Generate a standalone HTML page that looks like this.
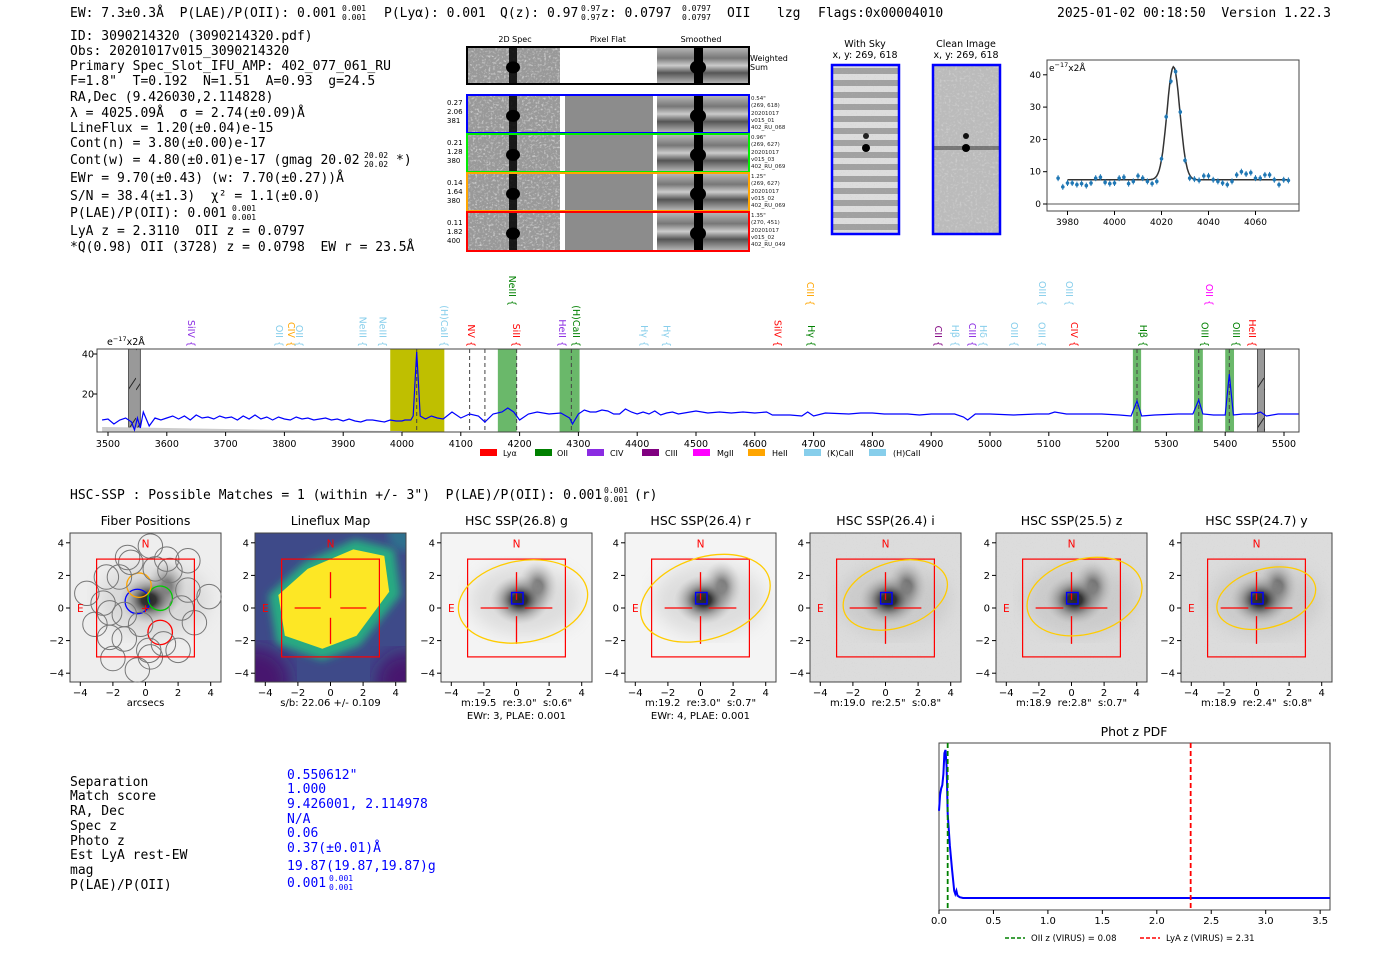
<!DOCTYPE html>
<html><head><meta charset="utf-8">
<style>
html,body{margin:0;padding:0;background:#fff;}
svg{display:block;}
.mono{font-family:"DejaVu Sans Mono","Liberation Mono",monospace;font-size:13px;fill:#000;}
.sans{font-family:"DejaVu Sans","Liberation Sans",sans-serif;}
.tick{font-family:"DejaVu Sans","Liberation Sans",sans-serif;fill:#000;white-space:pre;}
</style></head>
<body>
<svg id="root" width="1400" height="953" viewBox="0 0 1400 953" font-size="10" xmlns="http://www.w3.org/2000/svg">
<defs>
<filter id="noise" x="0" y="0" width="100%" height="100%"><feTurbulence type="fractalNoise" baseFrequency="0.45" numOctaves="2" seed="3"/><feColorMatrix type="matrix" values="0 0 0 0 0.6  0 0 0 0 0.6  0 0 0 0 0.6  -2.2 -2.2 0 0 2.2"/></filter>
<filter id="fine" x="0" y="0" width="100%" height="100%"><feTurbulence type="fractalNoise" baseFrequency="0.9" numOctaves="1" seed="7"/><feColorMatrix type="matrix" values="0 0 0 0 0.5  0 0 0 0 0.5  0 0 0 0 0.5  -1.2 -1.2 0 0 1.1"/></filter>
<filter id="blur4"><feGaussianBlur stdDeviation="4"/></filter>
<filter id="blur8"><feGaussianBlur stdDeviation="9"/></filter>
<radialGradient id="blob"><stop offset="0" stop-color="#000"/><stop offset="0.25" stop-color="#111"/><stop offset="0.6" stop-color="#777" stop-opacity="0.6"/><stop offset="1" stop-color="#bbb" stop-opacity="0"/></radialGradient>
<pattern id="hatch" width="8" height="40" patternUnits="userSpaceOnUse"><rect width="8" height="40" fill="#999"/><line x1="0" y1="30" x2="8" y2="18" stroke="#222" stroke-width="1"/></pattern>
<linearGradient id="smooth" x1="0" y1="0" x2="0" y2="1"><stop offset="0" stop-color="#bbb"/><stop offset="0.3" stop-color="#777"/><stop offset="0.5" stop-color="#ccc"/><stop offset="0.7" stop-color="#555"/><stop offset="1" stop-color="#bbb"/></linearGradient>
</defs>

<g>
<text class="mono" x="70" y="17" xml:space="preserve">EW: 7.3±0.3Å  P(LAE)/P(OII): 0.001</text>
<text class="mono" x="342" y="11" style="font-size:8px">0.001</text><text class="mono" x="342" y="20" style="font-size:8px">0.001</text>
<text class="mono" x="384" y="17">P(Lyα): 0.001</text>
<text class="mono" x="500" y="17">Q(z): 0.97</text>
<text class="mono" x="581" y="11" style="font-size:8px">0.97</text><text class="mono" x="581" y="20" style="font-size:8px">0.97</text>
<text class="mono" x="601" y="17">z: 0.0797</text>
<text class="mono" x="682" y="11" style="font-size:8px">0.0797</text><text class="mono" x="682" y="20" style="font-size:8px">0.0797</text>
<text class="mono" x="727" y="17">OII</text>
<text class="mono" x="777" y="17">lzg</text>
<text class="mono" x="818" y="17">Flags:0x00004010</text>
<text class="mono" x="1057" y="17" xml:space="preserve">2025-01-02 00:18:50  Version 1.22.3</text>
</g>

<g>
<text class="mono" x="70" y="40">ID: 3090214320 (3090214320.pdf)</text>
<text class="mono" x="70" y="55">Obs: 20201017v015_3090214320</text>
<text class="mono" x="70" y="70">Primary Spec_Slot_IFU_AMP: 402_077_061_RU</text>
<text class="mono" x="70" y="85" xml:space="preserve">F=1.8"  T=0.192  N=1.51  A=0.93  g=24.5</text>
<text class="mono" x="70" y="101">RA,Dec (9.426030,2.114828)</text>
<text class="mono" x="70" y="117" xml:space="preserve">λ = 4025.09Å  σ = 2.74(±0.09)Å</text>
<text class="mono" x="70" y="132">LineFlux = 1.20(±0.04)e-15</text>
<text class="mono" x="70" y="147">Cont(n) = 3.80(±0.00)e-17</text>
<text class="mono" x="70" y="164">Cont(w) = 4.80(±0.01)e-17 (gmag 20.02</text>
<text class="mono" x="364" y="158" style="font-size:8px">20.02</text><text class="mono" x="364" y="167" style="font-size:8px">20.02</text>
<text class="mono" x="396" y="164">*)</text>
<text class="mono" x="70" y="182" xml:space="preserve">EWr = 9.70(±0.43) (w: 7.70(±0.27))Å</text>
<text class="mono" x="70" y="200" xml:space="preserve">S/N = 38.4(±1.3)  χ² = 1.1(±0.0)</text>
<text class="mono" x="70" y="217">P(LAE)/P(OII): 0.001</text>
<text class="mono" x="232" y="211" style="font-size:8px">0.001</text><text class="mono" x="232" y="220" style="font-size:8px">0.001</text>
<text class="mono" x="70" y="235" xml:space="preserve">LyA z = 2.3110  OII z = 0.0797</text>
<text class="mono" x="70" y="251" xml:space="preserve">*Q(0.98) OII (3728) z = 0.0798  EW r = 23.5Å</text>
</g>

<g class="sans">
<text x="515" y="42" font-size="8" text-anchor="middle">2D Spec</text>
<text x="608" y="42" font-size="8" text-anchor="middle">Pixel Flat</text>
<text x="701" y="42" font-size="8" text-anchor="middle">Smoothed</text>
<g id="cut2d"></g>
<text x="750" y="61" font-size="8">Weighted</text><text x="750" y="70" font-size="8">Sum</text>
<g font-size="7" fill="#000">
<text x="447" y="105">0.27</text><text x="447" y="114">2.06</text><text x="447" y="123">381</text>
<text x="447" y="145">0.21</text><text x="447" y="154">1.28</text><text x="447" y="163">380</text>
<text x="447" y="185">0.14</text><text x="447" y="194">1.64</text><text x="447" y="203">380</text>
<text x="447" y="225">0.11</text><text x="447" y="234">1.82</text><text x="447" y="243">400</text>
</g>
<g font-size="5.5" fill="#222">
<text x="751" y="100">0.54"</text><text x="751" y="107">(269, 618)</text><text x="751" y="115">20201017</text><text x="751" y="122">v015_01</text><text x="751" y="129">402_RU_068</text>
<text x="751" y="139">0.96"</text><text x="751" y="146">(269, 627)</text><text x="751" y="154">20201017</text><text x="751" y="161">v015_03</text><text x="751" y="168">402_RU_069</text>
<text x="751" y="178">1.25"</text><text x="751" y="185">(269, 627)</text><text x="751" y="193">20201017</text><text x="751" y="200">v015_02</text><text x="751" y="207">402_RU_069</text>
<text x="751" y="217">1.35"</text><text x="751" y="224">(270, 451)</text><text x="751" y="232">20201017</text><text x="751" y="239">v015_02</text><text x="751" y="246">402_RU_049</text>
</g>
</g>

<g class="sans">
<text x="865" y="47" font-size="9.5" text-anchor="middle">With Sky</text>
<text x="865" y="58" font-size="9.5" text-anchor="middle">x, y: 269, 618</text>
<text x="966" y="47" font-size="9.5" text-anchor="middle">Clean Image</text>
<text x="966" y="58" font-size="9.5" text-anchor="middle">x, y: 269, 618</text>
<g>
<rect x="832" y="65" width="67" height="169" fill="#ddd"/>
<g id="skybands"></g>
<rect x="832" y="65" width="67" height="169" filter="url(#fine)" opacity="0.5"/>
<circle cx="866" cy="148" r="4" fill="#000"/><circle cx="866" cy="136" r="3" fill="#222"/>
<rect x="832" y="65" width="67" height="169" fill="none" stroke="#0000ff" stroke-width="2.5"/>
</g>
<g>
<rect x="933" y="65" width="67" height="169" fill="#bbb"/>
<rect x="933" y="65" width="67" height="169" filter="url(#noise)"/>
<rect x="933" y="146" width="67" height="4" fill="#333" opacity="0.5"/>
<circle cx="966" cy="148" r="4" fill="#000"/><circle cx="966" cy="136" r="3" fill="#111"/>
<rect x="933" y="65" width="67" height="169" fill="none" stroke="#0000ff" stroke-width="2.5"/>
</g>
</g>

<g id="fitplot">
<rect x="1047" y="60" width="252" height="151" fill="none" stroke="#444" stroke-width="1"/>
<text class="tick" x="1049" y="71" font-size="9">e<tspan font-size="6.5" dy="-4">−17</tspan><tspan dy="4">x2Å</tspan></text>
</g>

<g id="spec">
<text class="tick" x="107" y="345" font-size="9.5">e<tspan font-size="6.5" dy="-4">−17</tspan><tspan dy="4">x2Å</tspan></text>
</g>

<g class="tick" font-size="8">
<rect x="480" y="449" width="17" height="7" fill="#ff0000"/><text x="503" y="456">Lyα</text>
<rect x="535" y="449" width="17" height="7" fill="#008000"/><text x="557" y="456">OII</text>
<rect x="587" y="449" width="17" height="7" fill="#8a2be2"/><text x="610" y="456">CIV</text>
<rect x="642" y="449" width="17" height="7" fill="#800080"/><text x="665" y="456">CIII</text>
<rect x="693" y="449" width="17" height="7" fill="#ff00ff"/><text x="717" y="456">MgII</text>
<rect x="748" y="449" width="17" height="7" fill="#ffa500"/><text x="772" y="456">HeII</text>
<rect x="804" y="449" width="17" height="7" fill="#87ceeb"/><text x="827" y="456">(K)CaII</text>
<rect x="869" y="449" width="17" height="7" fill="#87ceeb"/><text x="893" y="456">(H)CaII</text>
</g>

<g>
<text class="mono" x="70" y="499" xml:space="preserve">HSC-SSP : Possible Matches = 1 (within +/- 3")  P(LAE)/P(OII): 0.001</text>
<text class="mono" x="604" y="493" style="font-size:8px">0.001</text><text class="mono" x="604" y="502" style="font-size:8px">0.001</text>
<text class="mono" x="634" y="499">(r)</text>
</g>

<g id="cutouts"></g>

<g>
<g class="mono">
<text x="70" y="786">Separation</text><text x="70" y="800">Match score</text><text x="70" y="815">RA, Dec</text><text x="70" y="830">Spec z</text>
<text x="70" y="845">Photo z</text><text x="70" y="859">Est LyA rest-EW</text><text x="70" y="874">mag</text><text x="70" y="889">P(LAE)/P(OII)</text>
</g>
<g class="mono">
<text class="mono" x="287" y="779" style="fill:#0000ff">0.550612"</text><text class="mono" x="287" y="793" style="fill:#0000ff">1.000</text><text class="mono" x="287" y="808" style="fill:#0000ff">9.426001, 2.114978</text>
<text class="mono" x="287" y="823" style="fill:#0000ff">N/A</text><text class="mono" x="287" y="837" style="fill:#0000ff">0.06</text><text class="mono" x="287" y="852" style="fill:#0000ff">0.37(±0.01)Å</text>
<text class="mono" x="287" y="870" style="fill:#0000ff">19.87(19.87,19.87)g</text><text class="mono" x="287" y="887" style="fill:#0000ff">0.001</text>
<text class="mono" x="329" y="881" style="font-size:8px;fill:#0000ff">0.001</text><text class="mono" x="329" y="890" style="font-size:8px;fill:#0000ff">0.001</text>
</g>
</g>

<g id="pdf">
<text class="sans" x="1134" y="736" font-size="12.5" text-anchor="middle">Phot z PDF</text>
<rect x="939" y="743" width="391" height="167" fill="none" stroke="#444"/>
<line x1="1005" y1="938" x2="1025" y2="938" stroke="#008000" stroke-width="1.5" stroke-dasharray="4,2"/>
<text class="tick" x="1031" y="941" font-size="8.5">OII z (VIRUS) = 0.08</text>
<line x1="1140" y1="938" x2="1160" y2="938" stroke="#ff0000" stroke-width="1.5" stroke-dasharray="4,2"/>
<text class="tick" x="1166" y="941" font-size="8.5">LyA z (VIRUS) = 2.31</text>
</g>
</svg>

<script>
// ---------- DATA ----------
const fitWave = [3976,3978,3980,3982,3984,3986,3988,3990,3992,3994,3996,3998,4000,4002,4004,4006,4008,4010,4012,4014,4016,4018,4020,4022,4024,4026,4028,4030,4032,4034,4036,4038,4040,4042,4044,4046,4048,4050,4052,4054,4056,4058,4060,4062,4064,4066,4068,4070,4072,4074];
const fitFlux = [8,5.3,6.5,6.5,6,6.3,5.7,6.5,8,8.3,6.7,6.3,6.5,8,8.3,6.3,7,8.7,8,7,6.3,7,14,27,38,41,28.5,13.5,8,7.7,7.3,8.7,8.7,7.5,7,6.5,6,7,9,10,9.3,9.7,8,8,9,9,7.5,6,7.5,7.3];
const fitModel = {center:4025.09, sigma:2.74, amp:35, cont:7.5, wmin:3980, wmax:4074};
const fitXTicks = [3980,4000,4020,4040,4060];
const fitYTicks = [0,10,20,30,40];

const specWave = [3490,3500,3510,3520,3530,3540,3545,3550,3555,3560,3570,3580,3590,3600,3610,3620,3630,3640,3650,3660,3670,3680,3690,3700,3710,3720,3730,3740,3750,3760,3770,3780,3790,3800,3810,3820,3830,3840,3850,3860,3870,3880,3890,3900,3910,3920,3930,3940,3950,3960,3970,3980,3990,4000,4005,4015,4019,4022,4025,4028,4031,4040,4050,4060,4070,4085,4100,4115,4130,4141,4155,4170,4180,4190,4200,4215,4230,4250,4270,4285,4290,4300,4310,4320,4330,4340,4350,4360,4370,4380,4390,4400,4410,4420,4430,4440,4450,4460,4470,4480,4490,4500,4520,4540,4560,4580,4600,4620,4630,4660,4680,4690,4700,4720,4760,4780,4800,4820,4860,4880,4900,4940,4955,4962,4975,5000,5040,5080,5100,5110,5130,5160,5190,5220,5240,5250,5258,5280,5320,5345,5355,5362,5380,5400,5407,5414,5430,5450,5460,5470,5490,5510,5525];
const specFlux = [7,7.5,5,7,8,6,2,8,3,11,4,8,7,8,9,7.5,9,7,9.5,8,8.5,7.5,9,8,8.5,7,9,7.5,9.5,7.5,8.5,7,8.5,7.5,7,8.5,7.5,8,7,7.5,8,7,7.5,6.5,7.5,6.5,6,7,7,6.5,6,7,6.5,6.5,7,7,9,25,41,25,9,7.5,9,8,7.5,11,8,10,9,6,10,11,13,11,7,10,11,10,10.5,8,5,10,12,11,11,12,11.5,10,10,12.5,11,10,11,10,11.5,9.5,10.5,11,10,10.5,11,11.5,10.5,11,10.5,11,10.5,11,9.5,9.5,9,11,9,10.5,10,10.5,10.5,10,10,9.5,10,10,8.5,7,10,10,9.5,10,10,11,10,10,10,9.5,9,16.5,9,9.5,10,10,17,10,9.5,9.5,30,9.5,10,10,11,9,10,10,10];
const specXTicks = [3500,3600,3700,3800,3900,4000,4100,4200,4300,4400,4500,4600,4700,4800,4900,5000,5100,5200,5300,5400,5500];
const specYTicks = [20,40];
const bandStart = [3980,4163,4268,5243,5347,5400];
const bandEnd   = [4072,4195,4302,5257,5362,5415];
const bandColor = ['#bfbf00','#6ab86a','#6ab86a','#6ab86a','#6ab86a','#6ab86a'];
const maskStart = [3535,5455];
const maskEnd = [3555,5467];
const dashWaves = [4025,4115,4141,4195,4288,5250,5355,5407];
const lineWaves = [3631,3781,3801,3815,3923,3957,4061,4107,4177,4184,4262,4286,4401,4440,4628,4684,4685,4901,4930,4959,4978,5031,5078,5077,5124,5133,5250,5362,5355,5408,5435];
const lineNames = ['SiIV','OII','CIV','OII','NeIII','NeIII','(H)CaII','NV','NeIII','SiII','HeII','(H)CaII','Hγ','Hγ','SiIV','CIII','Hγ','CII','Hβ','CIII','Hδ','OIII','OIII','OIII','OIII','CIV','Hβ','OII','OIII','OIII','HeII'];
const lineColors = ['#8a2be2','#87ceeb','#ffa500','#87ceeb','#87ceeb','#87ceeb','#87ceeb','#ff0000','#008000','#ff0000','#8a2be2','#008000','#87ceeb','#87ceeb','#ff0000','#ffa500','#008000','#800080','#87ceeb','#8a2be2','#87ceeb','#87ceeb','#87ceeb','#87ceeb','#87ceeb','#ff0000','#008000','#ff00ff','#008000','#008000','#ff0000'];
const lineRow = [0,0,0,0,0,0,0,0,1,0,0,0,0,0,0,1,0,0,0,0,0,0,1,0,1,0,0,1,0,0,0];

const pdfZ = [0,0.01,0.02,0.03,0.04,0.05,0.06,0.07,0.08,0.09,0.1,0.12,0.14,0.15,0.16,0.17,0.19,0.22,1.0,2.0,3.0,3.6];
const pdfV = [0.62,0.72,0.76,0.78,0.85,0.98,1.0,0.9,0.6,0.5,0.4,0.25,0.12,0.1,0.12,0.09,0.08,0.075,0.075,0.075,0.075,0.075];
const pdfXTicks = ['0.0','0.5','1.0','1.5','2.0','2.5','3.0','3.5'];
const pdfMarkZ = [0.0797,2.311];
const pdfMarkColor = ['#008000','#ff0000'];

const cutTitles = ['Fiber Positions','Lineflux Map','HSC SSP(26.8) g','HSC SSP(26.4) r','HSC SSP(26.4) i','HSC SSP(25.5) z','HSC SSP(24.7) y'];
const cutLine1 = ['arcsecs','s/b: 22.06 +/- 0.109','m:19.5  re:3.0"  s:0.6"','m:19.2  re:3.0"  s:0.7"','m:19.0  re:2.5"  s:0.8"','m:18.9  re:2.8"  s:0.7"','m:18.9  re:2.4"  s:0.8"'];
const cutLine2 = ['','','EWr: 3, PLAE: 0.001','EWr: 4, PLAE: 0.001','','',''];
const ellRx = [0,0,4.0,4.1,3.3,3.6,3.1];
const ellRy = [0,0,2.5,2.5,2.0,2.3,1.8];
const ellAng = [0,0,-10,-18,-18,-15,-15];
const ellCx = [0,0,0.4,0.3,0.6,0.8,0.6];
const ellCy = [0,0,0.4,0.6,0.8,0.7,0.6];
const tickVals = [-4,-2,0,2,4];
const fiberX = [-0.5,0.9,0.9,-0.4, -2.2,-1.3,0.2,1.5,2.6,-2.6,-1.6,-3.1,-2.0,-1.1,0.3,2.0,3.0,-2.4,-1.3,0.3,1.3,2.6,3.9,-3.6,-2.2,-0.5,1.1,2.2,-0.9,0.6,-0.3];
const fiberY = [0.4,0.6,-1.5,1.4,-1.8,-0.4,-2.6,2.3,1.1,0.3,1.9,-1.0,-3.1,3.1,3.8,-2.6,-0.9,1.9,-1.9,-3.0,3.0,2.9,0.7,0.9,-0.3,-3.8,-2.2,0.0,2.8,2.4,-1.0];
const fiberColor = ['#0000ff','#00cc00','#ff0000','#ffa500'];

// ---------- helpers ----------
const NS='http://www.w3.org/2000/svg';
function el(tag, parent, attrs){const e=document.createElementNS(NS,tag);for(const k in attrs)e.setAttribute(k,attrs[k]);parent.appendChild(e);return e;}
function txt(parent,x,y,s,attrs){const t=el('text',parent,Object.assign({x:x,y:y,class:'tick'},attrs||{}));t.textContent=s;return t;}

(function(){
  const g=document.getElementById('cut2d');
  const rows=[[47,37,'#000'],[95,38,'#0000ff'],[134,38,'#00ee00'],[173,38,'#ffa500'],[212,39,'#ff0000']];
  rows.forEach((r,i)=>{
    const y=r[0],h=r[1];
    const a=el('rect',g,{x:468,y:y,width:92,height:h,fill:'#999'});
    
    
    el('rect',g,{x:468,y:y,width:92,height:h,filter:'url(#noise)'});
    el('rect',g,{x:509,y:y,width:8,height:h,fill:'#000',opacity:0.85});
    el('ellipse',g,{cx:513,cy:y+h*0.55,rx:7,ry:6,fill:'#000'});
    if(i>0){const p=el('rect',g,{x:565,y:y,width:88,height:h,fill:'#8c8c8c'});
      
      }
    const s=el('rect',g,{x:657,y:y,width:91,height:h,fill:'url(#smooth)'});
    
    
    el('rect',g,{x:694,y:y,width:9,height:h,fill:'#000'});
    el('ellipse',g,{cx:698,cy:y+h*0.55,rx:8,ry:7,fill:'#000'});
    const b=el('rect',g,{x:467,y:y,width:282,height:h,fill:'none',stroke:r[2],'stroke-width':2});
    
    
  });
  const sb=document.getElementById('skybands');
  for(let k=0;k<14;k++){const r=el('rect',sb,{x:832,y:68+k*12,width:67,height:6,fill:'#888',opacity:0.7});
    
    }
})();

(function(){
  const g=document.getElementById('fitplot');
  const tx=w=>1067.5+(w-3980)*2.35, ty=f=>204-f*3.23;
  el('line',g,{x1:1047,x2:1299,y1:ty(0),y2:ty(0),stroke:'#555','stroke-width':1});
  fitXTicks.forEach(v=>{el('line',g,{x1:tx(v),x2:tx(v),y1:211,y2:215,stroke:'#000'});
    const t=txt(g,tx(v),225,String(v),{'text-anchor':'middle','font-size':9});
    
    });
  fitYTicks.forEach(v=>{el('line',g,{x1:1043,x2:1047,y1:ty(v),y2:ty(v),stroke:'#000'});
    const t=txt(g,1041,ty(v)+3,String(v),{'text-anchor':'end','font-size':9});
    
    });
  let d='';
  for(let w=fitModel.wmin;w<=fitModel.wmax;w+=0.5){const f=fitModel.cont+fitModel.amp*Math.exp(-0.5*Math.pow((w-fitModel.center)/fitModel.sigma,2));d+=(d?'L':'M')+tx(w).toFixed(1)+','+ty(f).toFixed(1);}
  const m=el('path',g,{d:d,fill:'none',stroke:'#333','stroke-width':1.5});
  
  
  fitWave.forEach((w,i)=>{
    el('line',g,{x1:tx(w),x2:tx(w),y1:ty(fitFlux[i])-3,y2:ty(fitFlux[i])+3,stroke:'#1f77b4','stroke-width':1});
    const c=el('circle',g,{cx:tx(w),cy:ty(fitFlux[i]),r:1.8,fill:'#1f77b4'});
    
    
  });
})();

(function(){
  const g=document.getElementById('spec');
  const L=97,R=1299,T=349,B=432;
  const sx=w=>108+(w-3500)*0.588, sy=f=>Math.max(T,Math.min(B,434-2*f));
  bandStart.forEach((s,i)=>{const r=el('rect',g,{x:sx(s),y:T,width:sx(bandEnd[i])-sx(s),height:B-T,fill:bandColor[i]});
    
    });
  maskStart.forEach((s,i)=>{const r=el('rect',g,{x:sx(s),y:T,width:sx(maskEnd[i])-sx(s),height:B-T,fill:'url(#hatch)',stroke:'#333','stroke-width':0.8});
    
    });
  el('polygon',g,{points:`${sx(3490)},${B} ${sx(3490)},${B-5} ${sx(3600)},${B-4} ${sx(3800)},${B-2} ${sx(4000)},${B-1} ${sx(4000)},${B}`,fill:'#ccc'});
  dashWaves.forEach(w=>{const l=el('line',g,{x1:sx(w),x2:sx(w),y1:T,y2:B,stroke:'#444','stroke-width':1,'stroke-dasharray':'4,3'});
    
    });
  let d='';
  specWave.forEach((w,i)=>{d+=(i?'L':'M')+sx(w).toFixed(1)+','+sy(specFlux[i]).toFixed(1);});
  const p=el('path',g,{d:d,fill:'none',stroke:'#0000ff','stroke-width':1.2});
  
  
  el('rect',g,{x:L,y:T,width:R-L,height:B-T,fill:'none',stroke:'#444','stroke-width':1});
  specXTicks.forEach(v=>{el('line',g,{x1:sx(v),x2:sx(v),y1:B,y2:B+4,stroke:'#000'});
    const t=txt(g,sx(v),447,String(v),{'text-anchor':'middle','font-size':9.5});
    
    });
  specYTicks.forEach(v=>{el('line',g,{x1:L-4,x2:L,y1:sy(v),y2:sy(v),stroke:'#000'});
    const t=txt(g,94,sy(v)+3.5,String(v),{'text-anchor':'end','font-size':9.5});
    
    });
  lineWaves.forEach((w,i)=>{
    const yEnd=lineRow[i]?306:347;
    const t=el('text',g,{x:sx(w),y:yEnd,class:'tick','font-size':9.5,'text-anchor':'end'});
    t.setAttribute('style','fill:'+lineColors[i]);
    t.setAttribute('transform',`translate(${sx(w)+3},${yEnd}) rotate(90) translate(${-sx(w)},${-yEnd})`);
    t.textContent=lineNames[i]+' {';
    
    
  });
})();

(function(){
  const root=document.getElementById('cutouts');
  const lefts=[70,255,441,625,810,996,1181];
  const T=533,W=151,H=149,u=16.3;
  lefts.forEach((L,i)=>{
    const g=el('g',root,{});
    
    
    const cx=L+W/2, cy=T+H/2+0.5;
    const X=v=>cx+v*u, Y=v=>cy-v*u;
    const cid='clip'+i;
    const cp=el('clipPath',g,{id:cid}); el('rect',cp,{x:L,y:T,width:W,height:H});
    const im=el('g',g,{'clip-path':`url(#${cid})`});
    if(i===1){
      el('rect',im,{x:L,y:T,width:W,height:H,fill:'#3e4a89'});
      el('circle',im,{cx:L,cy:T+H,r:35,fill:'#46146e',filter:'url(#blur8)'});
      el('circle',im,{cx:L+W,cy:T+H,r:30,fill:'#46146e',filter:'url(#blur8)'});
      el('circle',im,{cx:L+W,cy:T,r:18,fill:'#2f6f8e',filter:'url(#blur4)'});
      const poly=[[-3.8,0.8],[-1.6,2.8],[1.5,4.2],[3.9,3.6],[4.3,0.8],[1.8,-2.3],[-0.5,-3.2],[-3.3,-2.2]].map(p=>X(p[0])+','+Y(p[1])).join(' ');
      el('polygon',im,{points:poly,fill:'#25ab82',filter:'url(#blur4)'});
      const poly2=[[-3.2,0.8],[-1.4,2.4],[1.4,3.6],[3.3,3.2],[3.6,1.0],[1.6,-1.7],[-0.5,-2.5],[-2.8,-1.7]].map(p=>X(p[0])+','+Y(p[1])).join(' ');
      const y2=el('polygon',im,{points:poly2,fill:'#fde725'});
      
      
    } else {
      el('rect',im,{x:L,y:T,width:W,height:H,fill:i===0?'#eeeeee':(i>=4?'#dcdcdc':'#f4f4f4')});
      if(i>=4) el('rect',im,{x:L,y:T,width:W,height:H,filter:'url(#fine)',opacity:0.35});
      el('ellipse',im,{cx:X(1.3),cy:Y(1.3),rx:u*1.2,ry:u*1.6,fill:'url(#blob)',opacity:0.55});
      el('ellipse',im,{cx:X(0.2),cy:Y(0.5),rx:u*1.8,ry:u*1.5,fill:'url(#blob)'});
      el('ellipse',im,{cx:X(0.5),cy:Y(0.5),rx:u*3.4,ry:u*2.2,fill:'#999',opacity:0.25,filter:'url(#blur8)'});
    }
    el('rect',g,{x:L,y:T,width:W,height:H,fill:'none',stroke:'#444'});
    if(i===0){
      fiberX.forEach((fx,k)=>{const c=el('circle',g,{cx:X(fx),cy:Y(fiberY[k]),r:u*0.75,fill:'none',stroke:k<4?fiberColor[k]:'#777','stroke-width':k<4?1.3:1});
        
        });
    }
    const sq=el('rect',g,{x:X(-3),y:Y(3),width:6*u,height:6*u,fill:'none',stroke:'#ff0000','stroke-width':1.2});
    
    
    if(i>=1){
      const gap=i===1?0.6:0.5;
      [[-2.2,0,-gap,0],[gap,0,2.2,0],[0,2.2,0,gap],[0,-gap,0,-2.2]].forEach(s=>el('line',g,{x1:X(s[0]),y1:Y(s[1]),x2:X(s[2]),y2:Y(s[3]),stroke:'#ff0000','stroke-width':1.3}));
    } else {
      txt(g,X(0),Y(0)+4,'+',{'text-anchor':'middle','font-size':11,style:'fill:#ff0000'});
    }
    if(i>=2){
      const e=el('ellipse',g,{cx:X(ellCx[i]),cy:Y(ellCy[i]),rx:ellRx[i]*u,ry:ellRy[i]*u,fill:'none',stroke:'#ffcc00','stroke-width':1.3,transform:`rotate(${ellAng[i]} ${X(ellCx[i])} ${Y(ellCy[i])})`});
      
      
      const b=el('rect',g,{x:X(-0.3),y:Y(0.95),width:0.7*u,height:0.7*u,fill:'none',stroke:'#0000ff','stroke-width':1.4});
      
      
    }
    txt(g,X(0),Y(3.7),'N',{'text-anchor':'middle','font-size':10.5,style:'fill:#ff0000'});
    txt(g,X(-4.0),Y(0)+4,'E',{'text-anchor':'middle','font-size':10.5,style:'fill:#ff0000'});
    tickVals.forEach(v=>{
      el('line',g,{x1:X(v),x2:X(v),y1:T+H,y2:T+H+4,stroke:'#000'});
      txt(g,X(v),T+H+14,v<0?'−'+(-v):String(v),{'text-anchor':'middle','font-size':10});
      el('line',g,{x1:L-4,x2:L,y1:Y(v),y2:Y(v),stroke:'#000'});
      txt(g,L-6,Y(v)+3.5,v<0?'−'+(-v):String(v),{'text-anchor':'end','font-size':10});
    });
    const tt=txt(g,cx,525,cutTitles[i],{'text-anchor':'middle','font-size':12.5});
    
    
    txt(g,cx,706,cutLine1[i],{'text-anchor':'middle','font-size':10});
    if(cutLine2[i]) txt(g,cx,719,cutLine2[i],{'text-anchor':'middle','font-size':10});
  });
})();

(function(){
  const g=document.getElementById('pdf');
  const px=z=>939+z*108.9, py=v=>910-v*160;
  pdfXTicks.forEach(s=>{const z=parseFloat(s);el('line',g,{x1:px(z),x2:px(z),y1:910,y2:914,stroke:'#000'});
    const t=txt(g,px(z),924,s,{'text-anchor':'middle','font-size':10});
    
    });
  let d='';
  pdfZ.forEach((z,i)=>{d+=(i?'L':'M')+Math.min(px(z),1330).toFixed(1)+','+py(pdfV[i]).toFixed(1);});
  const p=el('path',g,{d:d,fill:'none',stroke:'#0000ff','stroke-width':2});
  
  
  pdfMarkZ.forEach((z,i)=>{const l=el('line',g,{x1:px(z),x2:px(z),y1:743,y2:910,stroke:pdfMarkColor[i],'stroke-width':1.8,'stroke-dasharray':'5,3'});
    
    });
})();
</script>
</body></html>
